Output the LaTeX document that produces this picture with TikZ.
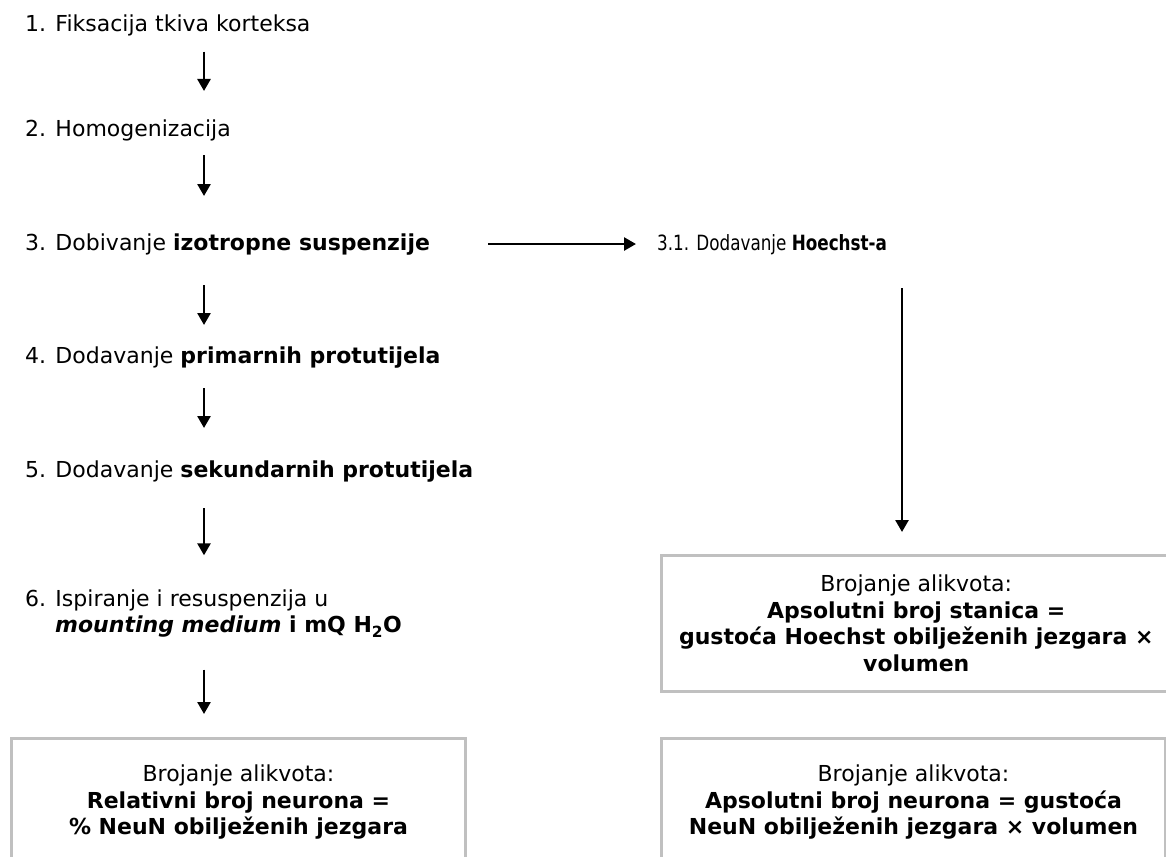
\documentclass[tikz,border=0pt]{standalone}
\usepackage{fontspec}
\setmainfont{DejaVu Sans}
\newfontfamily\narrowfont[FakeStretch=0.8]{DejaVu Sans}
\usetikzlibrary{arrows.meta}
\definecolor{boxgray}{RGB}{192,192,192}

\begin{document}
\begin{tikzpicture}[x=1pt,y=-1pt,
  every node/.style={inner sep=0pt,font=\fontsize{22}{26.5}\selectfont},
  stage/.style={anchor=base west},
  flow/.style={line width=2.6pt,-{Triangle[width=13pt,length=12pt]}},
  countbox/.style={draw=boxgray,line width=3pt,align=center}]
 \useasboundingbox (0,0) rectangle (1166,856);
 \clip (0,0) rectangle (1166,856);
 % steps of the left column
 \node[stage] (s1) at (25,31.7) {1. Fiksacija tkiva korteksa};
 \node[stage] (s2) at (25,136) {2. Homogenizacija};
 \node[stage] (s3) at (25,250) {3. Dobivanje \textbf{izotropne suspenzije}};
 \node[stage] (s4) at (25,363) {4. Dodavanje \textbf{primarnih protutijela}};
 \node[stage] (s5) at (25,477) {5. Dodavanje \textbf{sekundarnih protutijela}};
 \node[anchor=north west,align=left] (s6) at (25,589.3)
   {6. Ispiranje i resuspenzija u\\
    \hspace*{30pt}\textbf{\textit{mounting medium} i mQ H\textsubscript{2}O}};
 % right branch
 \node[stage,font=\narrowfont\fontsize{21}{25}\selectfont] (s31) at (657,250)
   {3.1. Dodavanje \textbf{Hoechst-a}};
 % counting boxes
 \node[countbox,minimum width=454pt,minimum height=128pt] (lbox) at (238.5,802.5)
   {Brojanje alikvota:\\
    \textbf{Relativni broj neurona =}\\
    \textbf{\% NeuN obilježenih jezgara}};
 \node[countbox,minimum width=509.5pt,minimum height=135.5pt] (hbox) at (916.25,623.25)
   {Brojanje alikvota:\\
    \textbf{Apsolutni broj stanica =}\\
    \textbf{gustoća Hoechst obilježenih jezgara ×}\\
    \textbf{volumen}};
 \node[countbox,minimum width=504pt,minimum height=128pt] (nbox) at (913.5,802.5)
   {Brojanje alikvota:\\
    \textbf{Apsolutni broj neurona = gustoća}\\
    \textbf{NeuN obilježenih jezgara × volumen}};
 % arrows
 \coordinate (col) at (204,0);
 \coordinate (rcol) at (902,0);
 \draw[flow,shorten <=20pt,shorten >=45pt] (s1.base -| col) -- (s2.base -| col);
 \draw[flow,shorten <=19pt,shorten >=54pt] (s2.base -| col) -- (s3.base -| col);
 \draw[flow,shorten <=35pt,shorten >=38pt] (s3.base -| col) -- (s4.base -| col);
 \draw[flow,shorten <=25pt,shorten >=49pt] (s4.base -| col) -- (s5.base -| col);
 \draw[flow,shorten <=31pt,shorten >=34pt] (s5.base -| col) -- (s6.north -| col);
 \draw[flow,shorten <=32pt,shorten >=23pt] (s6.south -| col) -- (lbox.north -| col);
 \draw[flow,shorten <=58pt,shorten >=21pt] (s3.east) -- (s31.west |- s3.east);
 \draw[flow,shorten <=38pt,shorten >=22pt] (s31.base -| rcol) -- (hbox.north -| rcol);
\end{tikzpicture}
\end{document}
